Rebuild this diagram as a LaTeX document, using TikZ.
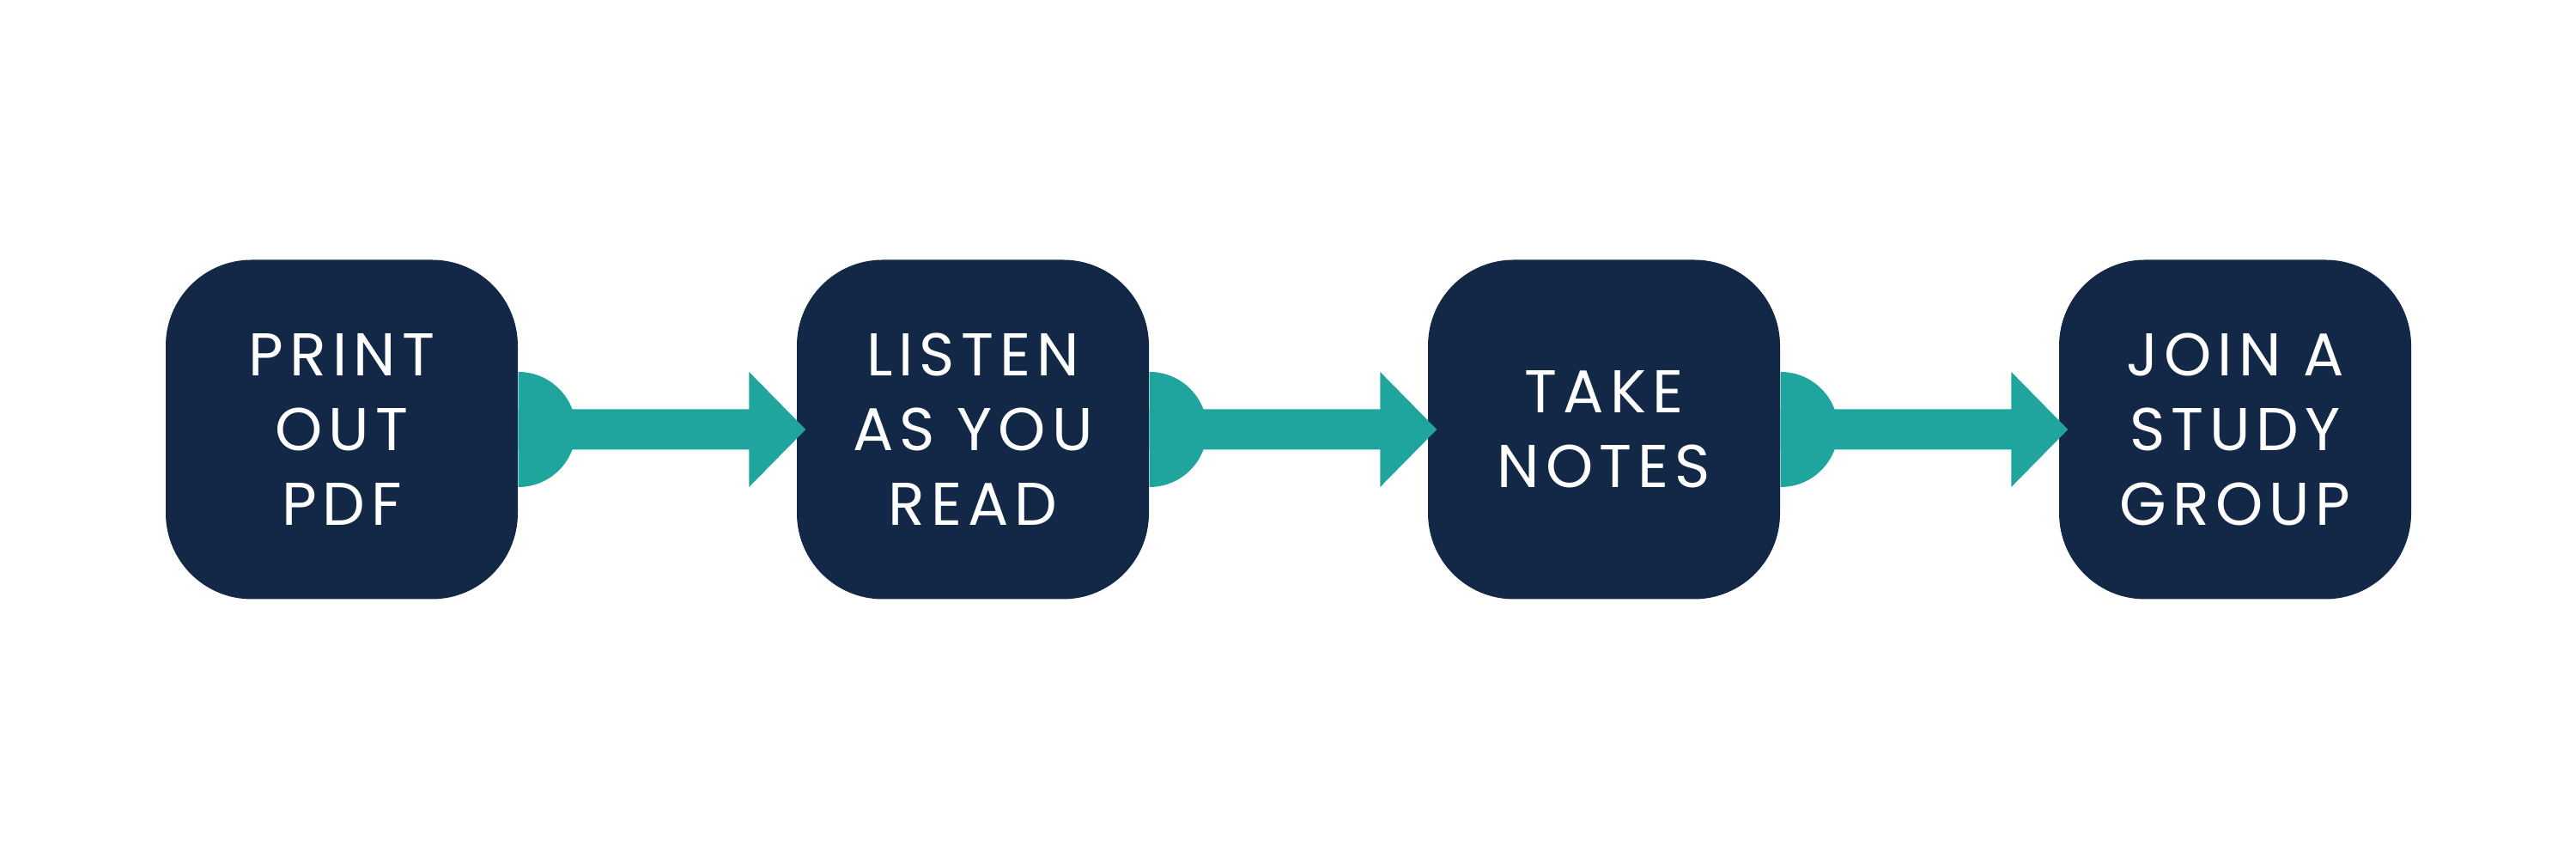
\documentclass[tikz,border=0pt]{standalone}
\usepackage{fontspec}
\newfontfamily\boxfont[LetterSpace=10]{Poppins}
\usetikzlibrary{calc}
\definecolor{navy}{RGB}{19,40,70}
\definecolor{tealc}{RGB}{31,165,158}
\tikzset{
  stepbox/.style={fill=navy, rounded corners=1cm, minimum width=4.1cm, minimum height=3.95cm,
    text=white, align=center, font=\boxfont\fontsize{20}{24.7}\selectfont, inner sep=0pt},
  link/.style={fill=tealc}
}
\newcommand{\linkarrow}[2]{%
  \fill[link] (#1.east) ++(0,0.67) arc[start angle=90,end angle=-90,radius=0.67] -- cycle;
  \fill[link] ($(#1.east)+(0,0.235)$) -- ($(#2.west)+(-0.55,0.235)$) -- ($(#2.west)+(-0.55,0.67)$)
    -- ($(#2.west)+(0.11,0)$) -- ($(#2.west)+(-0.55,-0.67)$) -- ($(#2.west)+(-0.55,-0.235)$)
    -- ($(#1.east)+(0,-0.235)$) -- cycle;}
\begin{document}
\begin{tikzpicture}
\useasboundingbox (0,0) rectangle (30,10);
\fill[white] (0,0) rectangle (30,10);
\node[stepbox] (b1) at (3.98,5) {PRINT\\OUT\\PDF};
\node[stepbox] (b2) at (11.33,5) {LISTEN\\AS YOU\\READ};
\node[stepbox] (b3) at (18.68,5) {TAKE\\NOTES};
\node[stepbox] (b4) at (26.03,5) {JOIN A\\STUDY\\GROUP};
\linkarrow{b1}{b2}
\linkarrow{b2}{b3}
\linkarrow{b3}{b4}
\end{tikzpicture}
\end{document}
